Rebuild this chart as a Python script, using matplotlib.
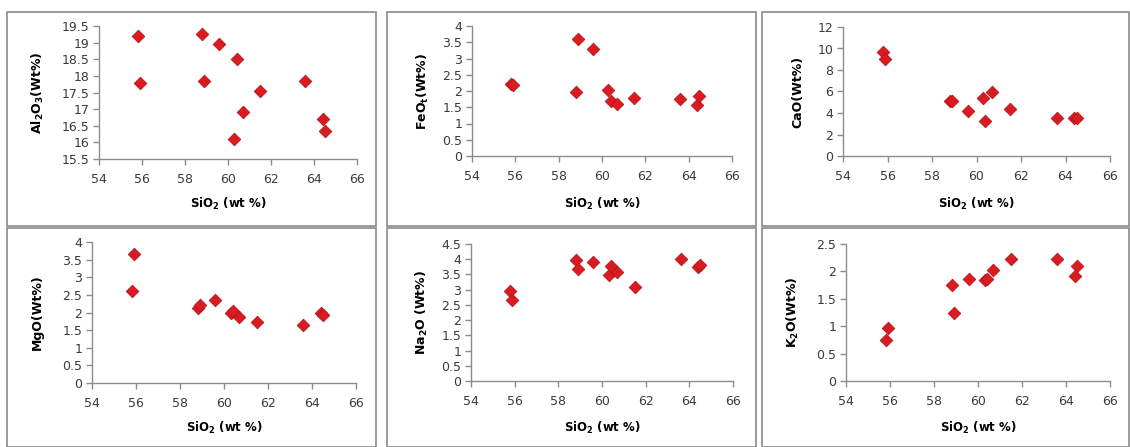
import matplotlib
matplotlib.use("Agg")
import matplotlib.pyplot as plt
from matplotlib.patches import Rectangle

plt.rcParams['font.family'] = ['DejaVu Sans']
plt.rcParams['mathtext.default'] = 'regular'

sio2 = [55.8, 55.9, 58.8, 58.9, 59.6, 60.3, 60.4, 60.7, 61.5, 63.6, 64.4, 64.5]
al2o3 = [19.2, 17.8, 19.25, 17.85, 18.95, 16.1, 18.5, 16.9, 17.55, 17.85, 16.7, 16.35]
feot = [2.22, 2.18, 1.97, 3.6, 3.3, 2.02, 1.7, 1.6, 1.8, 1.75, 1.58, 1.85]
cao = [9.7, 9.0, 5.15, 5.1, 4.15, 5.4, 3.3, 5.95, 4.4, 3.55, 3.55, 3.55]
mgo = [2.6, 3.67, 2.13, 2.2, 2.35, 2.0, 2.05, 1.88, 1.72, 1.64, 2.0, 1.92]
na2o = [2.95, 2.65, 3.97, 3.67, 3.92, 3.48, 3.77, 3.58, 3.1, 4.02, 3.75, 3.8]
k2o = [0.75, 0.97, 1.76, 1.25, 1.87, 1.84, 1.87, 2.02, 2.22, 2.23, 1.92, 2.09]

ylabels = ['Al$_2$O$_3$(Wt%)', 'FeO$_t$(Wt%)', 'CaO(Wt%)',
           'MgO(Wt%)', 'Na$_2$O (Wt%)', 'K$_2$O(Wt%)']
xlabel = 'SiO$_2$ (wt %)'
series = [al2o3, feot, cao, mgo, na2o, k2o]
yticks = [
    [15.5, 16, 16.5, 17, 17.5, 18, 18.5, 19, 19.5],
    [0, 0.5, 1, 1.5, 2, 2.5, 3, 3.5, 4],
    [0, 2, 4, 6, 8, 10, 12],
    [0, 0.5, 1, 1.5, 2, 2.5, 3, 3.5, 4],
    [0, 0.5, 1, 1.5, 2, 2.5, 3, 3.5, 4, 4.5],
    [0, 0.5, 1, 1.5, 2, 2.5],
]
xticks = [54, 56, 58, 60, 62, 64, 66]

W, H = 1130, 447
fig = plt.figure(figsize=(W / 100, H / 100), dpi=100)

# plot area pixel boxes: (x_left, x_right, y_top, y_bottom)
areas = [
    (99, 357, 26, 159),
    (472, 732, 26, 156),
    (843, 1110, 27, 156),
    (92, 356, 242, 383),
    (471, 733, 244, 381),
    (846, 1110, 244, 381),
]
ylabel_x = [38, 423, 798, 37, 422, 793]
xlabel_y = [204, 204, 204, 428, 428, 428]
panels = [
    (7, 376, 12, 226),
    (387, 756, 12, 226),
    (762, 1129, 12, 226),
    (7, 376, 228, 447),
    (387, 756, 228, 447),
    (762, 1129, 228, 447),
]

for (x0, x1, y0, y1) in panels:
    fig.add_artist(Rectangle((x0 / W, 1 - y1 / H), (x1 - x0) / W, (y1 - y0) / H,
                             transform=fig.transFigure, fill=False,
                             edgecolor='#8a8a8a', linewidth=1.2))

for i, (xl, xr, yt, yb) in enumerate(areas):
    ax = fig.add_axes([xl / W, 1 - yb / H, (xr - xl) / W, (yb - yt) / H])
    ax.patch.set_alpha(0)
    ax.scatter(sio2, series[i], marker='D', s=42, color='#d81c22',
               edgecolor='#b01015', linewidth=0.5, zorder=3)
    ax.set_xlim(54, 66)
    ax.set_ylim(yticks[i][0], yticks[i][-1])
    ax.set_xticks(xticks)
    ax.set_yticks(yticks[i])
    ax.set_xticklabels([str(v) for v in xticks])
    ax.set_yticklabels([('%g' % v) for v in yticks[i]])
    for s in ['top', 'right']:
        ax.spines[s].set_visible(False)
    for s in ['left', 'bottom']:
        ax.spines[s].set_color('#8c8c8c')
        ax.spines[s].set_linewidth(1.0)
    ax.tick_params(direction='out', length=4, width=1, color='#8c8c8c',
                   labelsize=9, labelcolor='#3a3a3a', pad=3)
    ax.tick_params(axis='x', pad=6)
    ax.set_ylabel(ylabels[i], fontsize=9, fontweight='bold')
    ax.set_xlabel(xlabel, fontsize=8.5, fontweight='bold')
    wpx = xr - xl
    hpx = yb - yt
    ax.yaxis.set_label_coords((ylabel_x[i] - xl) / wpx, 0.5)
    ax.xaxis.set_label_coords(0.5, -(xlabel_y[i] - yb) / hpx)
    ax.xaxis.label.set_va('center')
    ax.yaxis.label.set_va('center')

fig.savefig('out.png', dpi=100)
